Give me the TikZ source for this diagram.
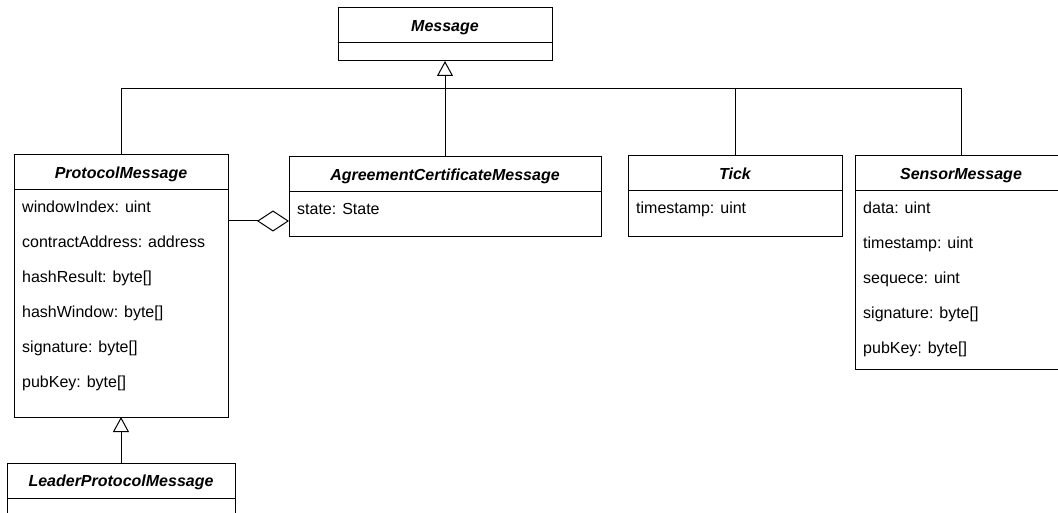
\documentclass[tikz,border=0pt]{standalone}
\usepackage{fontspec}
\setmainfont{Liberation Sans}
\usetikzlibrary{arrows.meta,calc}
\begin{document}
\begin{tikzpicture}[x=1pt,y=-1pt,
  classbox/.style={draw=black, line width=1pt, fill=white, anchor=north west,
                   inner sep=0pt, outer sep=0pt},
  classtitle/.style={anchor=base, inner sep=0pt,
                     font=\fontsize{16}{19}\selectfont\bfseries\itshape},
  attr/.style={anchor=base west, inner sep=0pt, font=\fontsize{16}{19}\selectfont},
  edge/.style={draw=black, line width=1pt},
  inherit/.style={edge, -{Triangle[open, length=15pt, width=16pt]}},
  aggr/.style={edge, -{Diamond[open, length=32pt, width=21pt]}}
]
\useasboundingbox (0,0) rectangle (1058,513);
\fill[white] (0,0) rectangle (1058,513);
\clip (0,0) rectangle (1058,513);

% class boxes
\node[classbox, minimum width=214pt, minimum height=53pt]  (msg)  at (338,8)   {};
\node[classbox, minimum width=214pt, minimum height=262pt] (pm)   at (14,155)  {};
\node[classbox, minimum width=312pt, minimum height=80pt]  (acm)  at (289,157) {};
\node[classbox, minimum width=214pt, minimum height=81pt]  (tick) at (628,156) {};
\node[classbox, minimum width=212pt, minimum height=213pt] (sm)   at (855,156) {};
\node[classbox, minimum width=228pt, minimum height=80pt]  (lpm)  at (7,463)   {};

% header separators
\foreach \c in {msg,pm,acm,tick,sm,lpm}
  \draw[edge] ($(\c.north west)+(0,35)$) -- ($(\c.north east)+(0,35)$);

% class names
\node[classtitle] (msgT)  at ($(msg.north)+(0,23.5)$)  {Message};
\node[classtitle] (pmT)   at ($(pm.north)+(0,23.5)$)   {ProtocolMessage};
\node[classtitle] (acmT)  at ($(acm.north)+(0,23.5)$)  {AgreementCertificateMessage};
\node[classtitle] (tickT) at ($(tick.north)+(0,23.5)$) {Tick};
\node[classtitle] (smT)   at ($(sm.north)+(0,23.5)$)   {SensorMessage};
\node[classtitle] (lpmT)  at ($(lpm.north)+(0,23.5)$)  {LeaderProtocolMessage};

% attributes
\node[attr] (pm1) at ($(pm.north west)+(8,58)$)    {windowIndex: uint};
\node[attr] (pm2) at ($(pm.north west)+(8,92.8)$)  {contractAddress: address};
\node[attr] (pm3) at ($(pm.north west)+(8,127.6)$) {hashResult: byte[]};
\node[attr] (pm4) at ($(pm.north west)+(8,162.4)$) {hashWindow: byte[]};
\node[attr] (pm5) at ($(pm.north west)+(8,197.2)$) {signature: byte[]};
\node[attr] (pm6) at ($(pm.north west)+(8,232)$)   {pubKey: byte[]};

\node[attr] (acm1) at ($(acm.north west)+(8,58)$) {state: State};
\node[attr] (tick1) at ($(tick.north west)+(8,58)$) {timestamp: uint};

\node[attr] (sm1) at ($(sm.north west)+(8,58)$)    {data: uint};
\node[attr] (sm2) at ($(sm.north west)+(8,92.8)$)  {timestamp: uint};
\node[attr] (sm3) at ($(sm.north west)+(8,127.6)$) {sequece: uint};
\node[attr] (sm4) at ($(sm.north west)+(8,162.4)$) {signature: byte[]};
\node[attr] (sm5) at ($(sm.north west)+(8,197.2)$) {pubKey: byte[]};

% generalisation tree
\coordinate (bus) at (445,89);
\draw[edge] (pm.north) |- (bus);
\draw[edge] (tick.north) |- (bus);
\draw[edge] (sm.north) |- (bus);
\draw[inherit] (acm.north) -- (msg.south);
\draw[inherit] (lpm.north) -- (pm.south);

% aggregation
\draw[aggr] ($(pm.north east)+(0,66)$) -- ($(acm.north west)+(0,64)$);
\end{tikzpicture}
\end{document}
